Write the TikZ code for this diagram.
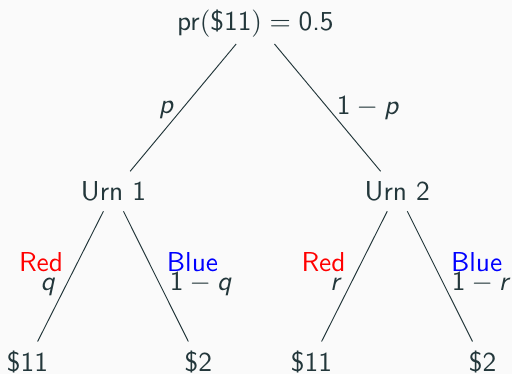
\documentclass[tikz,border=0pt]{standalone}
\usepackage{xcolor}
\definecolor{fg}{HTML}{23373B}
\definecolor{bg}{HTML}{FAFAFA}
\tikzset{
  big/.style={font=\fontsize{10.95}{13}\selectfont\sffamily},
  tn/.style={big, text=fg, inner xsep=1.2pt, inner ysep=2.4pt, text height=9.2pt, text depth=1.6pt},
  lbl/.style={big, text=fg, inner sep=0pt, anchor=base},
  br/.style={draw=fg, line width=0.38pt},
}
\newcommand\sv[1]{\textsf{\itshape #1}}
\begin{document}
\begin{tikzpicture}[x=0.4pt,y=-0.4pt]
\fill[bg] (0,0) rectangle (512,374);
\useasboundingbox (0,0) rectangle (512,374);
% tree nodes
\node[tn, inner ysep=3.6pt] (root) at (255.3,21) {$\textsf{pr}(\textsf{\$11}) = \textsf{0.5}$};
\node[tn] (u1) at (113.5,191.3) {Urn 1};
\node[tn] (u2) at (397.3,191.3) {Urn 2};
\node[tn] (l1) at (27.5,361.5) {\$11};
\node[tn] (l2) at (198.3,361.5) {\$2};
\node[tn] (l3) at (311.5,361.5) {\$11};
\node[tn] (l4) at (482.5,361.5) {\$2};
% branches
\draw[br] (root) -- (u1);
\draw[br] (root) -- (u2);
\draw[br] (u1) -- (l1);
\draw[br] (u1) -- (l2);
\draw[br] (u2) -- (l3);
\draw[br] (u2) -- (l4);
% labels
\node[lbl] (lp) at (166.5,113) {\sv{p}};
\node[lbl] (lnp) at (367.5,114) {$\textsf{1}-\sv{p}$};
\node[lbl, text=red] (r1) at (41,271.7) {Red};
\node[lbl] (q1) at (48,290) {\sv{q}};
\node[lbl, text=blue] (b1) at (192.5,271.7) {Blue};
\node[lbl] (q2) at (200.5,290) {$\textsf{1}-\sv{q}$};
\node[lbl, text=red] (r2) at (323.5,271.7) {Red};
\node[lbl] (rr1) at (336,290) {\sv{r}};
\node[lbl, text=blue] (b2) at (476.7,271.7) {Blue};
\node[lbl] (rr2) at (480,290) {$\textsf{1}-\sv{r}$};
\end{tikzpicture}
\end{document}
